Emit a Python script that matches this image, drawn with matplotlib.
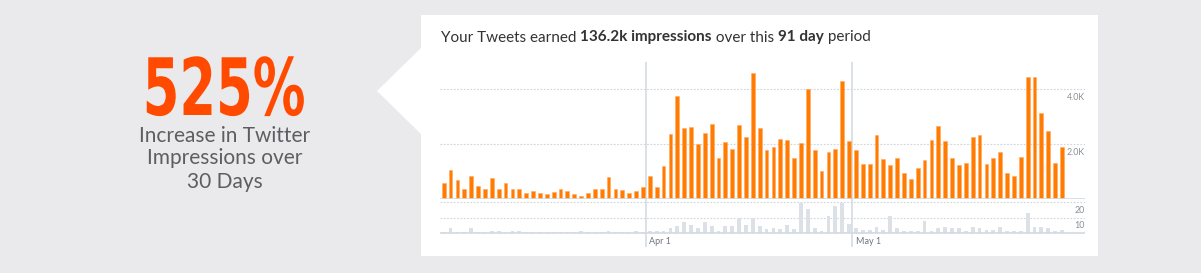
import matplotlib
matplotlib.use("Agg")
import matplotlib.pyplot as plt
from matplotlib.patches import Rectangle, Polygon
from matplotlib.transforms import offset_copy, Affine2D
from matplotlib.patheffects import AbstractPathEffect

W, H = 1201, 273

# impressions per day (91 days, Mar 2 .. May 31)
impressions = [580, 1060, 710, 380, 850, 490, 360, 760, 360, 580,
               370, 380, 210, 290, 230, 170, 260, 360, 290, 170,
               100, 210, 380, 380, 800, 360, 330, 230, 290, 430,
               850, 430, 1210, 2360, 3770, 2580, 2610, 2020, 2420, 2720,
               1500, 2090, 1840, 2700, 2280, 4590, 2580, 1780, 1880, 2200,
               2170, 1500, 2050, 4020, 1780, 1030, 1710, 1820, 4320, 2120,
               1780, 1290, 1290, 2320, 1470, 1240, 1500, 960, 740, 1140,
               1410, 2170, 2650, 2100, 1500, 1240, 1330, 2280, 2320, 1290,
               1500, 1730, 960, 850, 1550, 4470, 4440, 3150, 2500, 1330, 1910]

# small grey series under the main chart
engagements = [0.6, 3, 0.6, 0.6, 3, 0.6, 0.6, 1, 1, 0.6,
               1, 1, 0.6, 0.6, 0.6, 0.6, 0.6, 0.6, 0.6, 0.6,
               1, 0.6, 0.6, 0.6, 1, 0.6, 0.6, 0.6, 1, 0.7,
               0.9, 0.9, 1.1, 3, 4.3, 7, 5.2, 3, 7, 4.3,
               0.9, 4.3, 4.3, 9.8, 5.2, 9.8, 4.3, 2.2, 3, 2.2,
               5.2, 2.2, 19.6, 15.7, 3, 0.9, 11, 17.8, 19.6, 5.9,
               3, 2, 2, 4, 2, 11, 3, 1, 1, 1,
               8, 1, 3, 4, 3, 3, 1, 4, 3, 2,
               2, 4, 1, 1, 1, 13, 4, 4, 3, 1, 2]

month_ticks = [29.5, 59.5]
month_labels = ["Apr 1", "May 1"]
top_ticks = [2000, 4000]
top_labels = ["2.0K", "4.0K"]
low_ticks = [10, 20]
low_labels = ["10", "20"]

BG = "#eaeaec"
ORANGE = "#ff7c00"
RED = "#ff4a00"
GREYBAR = "#dbe1e7"
GRID = "#cfd5db"
LABEL = "#8a9098"


def fx(x):
    return x / W


def fy(y):
    return 1 - y / H


class Squeeze(AbstractPathEffect):
    # narrows the glyphs horizontally around a centre (display pixels)
    def __init__(self, sx, cx):
        super().__init__()
        self.sx = sx
        self.cx = cx

    def draw_path(self, renderer, gc, tpath, affine, rgbFace=None):
        aff = affine + Affine2D().translate(-self.cx, 0).scale(self.sx, 1).translate(self.cx, 0)
        renderer.draw_path(gc, tpath, aff, rgbFace)


fig = plt.figure(figsize=(W / 100, H / 100), dpi=100, facecolor=BG)

# white card with arrow on the left (behind the axes)
fig.patches.append(Rectangle((fx(421), fy(256)), fx(1098) - fx(421), fy(15) - fy(256),
                             transform=fig.transFigure, facecolor="white", edgecolor="none", zorder=-10))
fig.patches.append(Polygon([(fx(377), fy(91)), (fx(422), fy(47)), (fx(422), fy(135))],
                           closed=True, transform=fig.transFigure, facecolor="white",
                           edgecolor="none", zorder=-10))

# big number on the left
fig.text(fx(224), fy(115), "525%", color=RED, fontsize=57, fontweight="bold",
         family="DejaVu Sans", fontstretch="condensed", ha="center", va="baseline",
         path_effects=[Squeeze(0.74, 224)])
sub = ["Increase in Twitter", "Impressions over", "30 Days"]
for line, yb in zip(sub, [141.7, 164.5, 187.7]):
    fig.text(fx(225), fy(yb), line, color="#5d5d63", fontsize=15, family="Lato",
             ha="center", va="baseline")

# title with bold pieces
pieces = [("Your Tweets earned ", "normal"), ("136.2k impressions", "bold"),
          (" over this ", "normal"), ("91 day", "bold"), (" period", "normal")]
renderer = fig.canvas.get_renderer()
xpos = 441
for txt, wt in pieces:
    t = fig.text(fx(xpos), fy(41.5), txt, color="#333333", fontsize=10.95, family="Lato",
                 fontweight=wt, ha="left", va="baseline")
    bb = t.get_window_extent(renderer=renderer)
    xpos += bb.width

x = list(range(len(impressions)))
x0, x1 = 440, 1085
xmin = -0.54
xmax = 93.35

# main chart
ax = fig.add_axes([fx(x0), fy(199), fx(x1) - fx(x0), fy(62) - fy(199)])
ax.bar(x, impressions, width=0.55, color=ORANGE, edgecolor="#ffa860", linewidth=0.4, zorder=3)
ax.set_xlim(xmin, xmax)
ax.set_ylim(0, 5000)
for v, lab in zip(top_ticks, top_labels):
    ax.axhline(v, color=GRID, lw=0.8, ls=(0, (1.5, 1.5)), zorder=1)
    ax.text(1.0, v, lab, transform=offset_copy(ax.get_yaxis_transform(), fig=fig, y=-8, units="dots"),
            ha="right", va="center", fontsize=6.4, color=LABEL, family="Lato")
ax.axhline(0, color="#d3d9df", lw=1.2, zorder=4)
for m in month_ticks:
    ax.axvline(m, color="#d5dbe1", lw=1.2, zorder=2)
ax.axis("off")

# lower chart
ax2 = fig.add_axes([fx(x0), fy(247), fx(x1) - fx(x0), fy(199) - fy(247)])
ax2.bar(x, engagements, width=0.55, color=GREYBAR, edgecolor="none", zorder=3)
ax2.set_xlim(xmin, xmax)
ax2.set_ylim(-9.4, 22.2)
for v, lab in zip(low_ticks, low_labels):
    ax2.axhline(v, color=GRID, lw=0.8, ls=(0, (1.5, 1.5)), zorder=1)
    ax2.text(1.0, v, lab, transform=offset_copy(ax2.get_yaxis_transform(), fig=fig, y=-8, units="dots"),
             ha="right", va="center", fontsize=6.4, color=LABEL, family="Lato")
ax2.plot([xmin, xmax], [0, 0], color="#d3d9df", lw=1.2, zorder=4)
for m, lab in zip(month_ticks, month_labels):
    ax2.axvline(m, color="#d5dbe1", lw=1.2, zorder=2)
    ax2.text(m + 0.45, -5.6, lab, ha="left", va="center", fontsize=6.5, color="#6f767e", family="Lato")
ax2.axis("off")

fig.savefig("out.png", dpi=100, facecolor=BG)
